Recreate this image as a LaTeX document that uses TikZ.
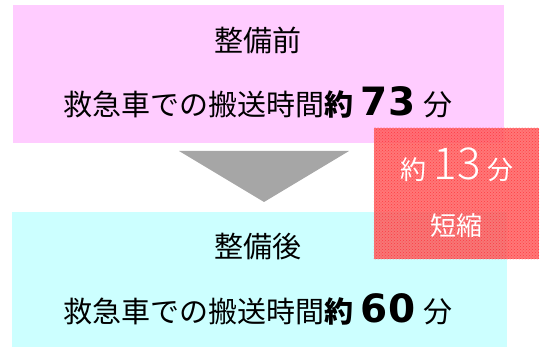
\documentclass[tikz,border=0pt]{standalone}
\usepackage{fontspec}
\setmainfont{Noto Sans CJK JP}
\newfontfamily\digitfont{DejaVu Sans}
\IfFontExistsTF{Noto Sans CJK JP Light}{\newfontfamily\lightfont{Noto Sans CJK JP Light}}{\newfontfamily\lightfont{Noto Sans CJK JP}}
\usetikzlibrary{patterns}
\definecolor{pinkbg}{RGB}{255,204,255}
\definecolor{cyanbg}{RGB}{204,255,255}
\definecolor{arrowgray}{RGB}{166,166,166}
\definecolor{redbase}{RGB}{255,95,95}
\definecolor{reddot}{RGB}{255,40,50}
\tikzset{
  panel/.style={draw=none, inner sep=0pt},
  txt/.style={anchor=base, inner sep=0pt, font=\fontsize{29}{32}\selectfont},
  wtxt/.style={anchor=base, inner sep=0pt, text=white, font=\fontsize{26}{30}\selectfont}
}
\newcommand{\bignum}[1]{{\digitfont\bfseries\fontsize{39}{42}\selectfont #1}}
\begin{document}
\begin{tikzpicture}[x=1pt,y=-1pt]
\useasboundingbox (0,0) rectangle (546,347);
% panels
\node[panel, fill=pinkbg, minimum width=491pt, minimum height=138pt] (before) at (258.5,74) {};
\node[panel, fill=cyanbg, minimum width=495pt, minimum height=135pt] (after) at (259.5,279.5) {};
% arrow triangle
\fill[arrowgray] (179,151) -- (349,151) -- (264,202) -- cycle;
% texts
\node[txt] (t1) at (258,52) {整備前};
\node[txt] (l1) at (258,116) {救急車での搬送時間\textbf{約}\hspace{7pt}\bignum{73}\hspace{8pt}分};
\node[txt] (t2) at (258,258) {整備後};
\node[txt] (l2) at (258,323) {救急車での搬送時間\textbf{約}\hspace{7pt}\bignum{60}\hspace{8pt}分};
% reduction box
\node[panel, fill=redbase, fill opacity=0.85, minimum width=165pt, minimum height=131pt] (cut) at (456.5,193.5) {};
\fill[pattern=crosshatch dots, pattern color=reddot, opacity=0.75] (cut.north west) rectangle (cut.south east);
\node[wtxt] (r1) at (457,180) {約\hspace{7pt}{\lightfont\fontsize{44}{46}\selectfont 13}\hspace{7pt}分};
\node[wtxt] (r2) at (456,236) {短縮};
\end{tikzpicture}
\end{document}
